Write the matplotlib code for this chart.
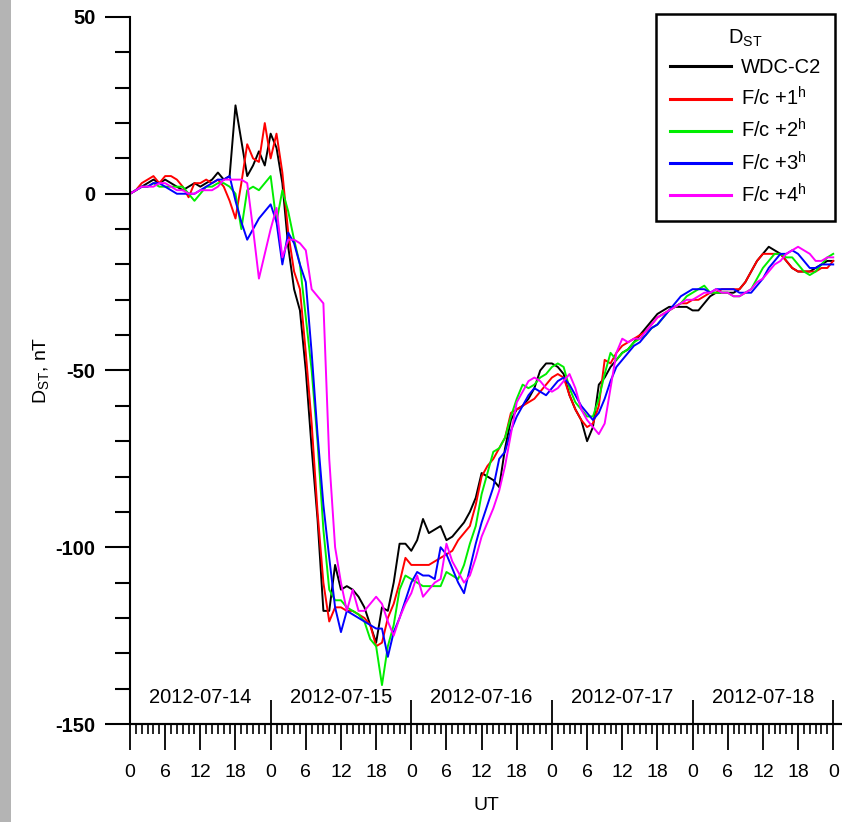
import numpy as np
import matplotlib
matplotlib.use('Agg')
import matplotlib.pyplot as plt
import matplotlib.transforms as mtransforms
from matplotlib.patches import Rectangle
from matplotlib.ticker import MultipleLocator, FixedLocator, FuncFormatter, NullLocator

plt.rcParams['font.family'] = ['Liberation Sans', 'DejaVu Sans']
plt.rcParams['axes.unicode_minus'] = False

# hourly Dst values, 2012-07-14 00 UT .. 2012-07-19 00 UT
hours = np.arange(121)

wdc_c2 = [0, 1, 2, 3, 4, 3, 4, 3, 2, 1,
          2, 3, 2, 3, 4, 6, 4, 5, 25, 15,
          5, 8, 12, 8, 17, 13, 3, -15, -27, -33,
          -50, -72, -92, -118, -118, -105, -112, -111, -112, -114,
          -117, -122, -127, -117, -118, -110, -99, -99, -101, -98,
          -92, -96, -95, -94, -98, -97, -95, -93, -90, -86,
          -79, -80, -81, -83, -72, -64, -61, -60, -58, -55,
          -50, -48, -48, -49, -51, -57, -61, -64, -70, -66,
          -54, -52, -49, -47, -45, -44, -42, -40, -38, -36,
          -34, -33, -32, -32, -32, -32, -33, -33, -31, -29,
          -28, -28, -28, -28, -27, -25, -22, -19, -17, -15,
          -16, -17, -19, -21, -22, -22, -22, -21, -20, -19,
          -19]

fc_1h = [0, 1, 3, 4, 5, 3, 5, 5, 4, 2,
         -1, 3, 3, 4, 3, 4, 2, -2, -7, 3,
         14, 10, 9, 20, 10, 17, 6, -11, -22, -27,
         -45, -65, -90, -110, -121, -117, -117, -118, -118, -119,
         -120, -122, -128, -127, -120, -116, -110, -103, -105, -105,
         -105, -105, -104, -103, -102, -101, -98, -96, -94, -88,
         -80, -77, -75, -72, -69, -62, -61, -60, -59, -58,
         -56, -54, -52, -51, -52, -57, -61, -64, -66, -65,
         -60, -47, -48, -45, -43, -42, -41, -40, -39, -37,
         -35, -34, -33, -32, -31, -31, -30, -30, -29, -28,
         -28, -27, -27, -27, -27, -25, -22, -19, -17, -17,
         -17, -17, -19, -21, -22, -22, -22, -22, -21, -21,
         -19]

fc_2h = [0, 1, 2, 2, 3, 2, 2, 2, 2, 2,
         0, -2, 0, 2, 2, 3, 3, 2, 0, -10,
         1, 2, 1, 3, 5, -8, 1, -5, -13, -20,
         -35, -50, -70, -95, -112, -115, -115, -117, -118, -119,
         -121, -126, -128, -139, -128, -122, -112, -108, -109, -110,
         -111, -111, -111, -111, -107, -108, -109, -105, -99, -94,
         -85, -79, -73, -72, -69, -63, -58, -54, -55, -54,
         -52, -51, -49, -48, -49, -55, -59, -61, -63, -63,
         -58, -51, -45, -47, -45, -44, -42, -41, -40, -38,
         -37, -35, -33, -32, -31, -29, -28, -27, -26, -28,
         -28, -28, -28, -29, -29, -28, -27, -24, -21, -19,
         -17, -17, -18, -18, -20, -22, -23, -22, -20, -18,
         -17]

fc_3h = [0, 1, 2, 2, 3, 3, 2, 1, 0, 0,
         0, 0, 1, 2, 3, 4, 4, 5, -2, -8,
         -13, -10, -7, -5, -3, -8, -20, -11, -14, -20,
         -25, -45, -68, -88, -103, -117, -124, -118, -119, -120,
         -121, -122, -123, -123, -131, -124, -120, -115, -110, -107,
         -108, -108, -109, -100, -102, -106, -110, -113, -106, -99,
         -93, -88, -83, -75, -73, -67, -63, -60, -57, -55,
         -56, -57, -55, -53, -52, -54, -57, -60, -62, -64,
         -62, -58, -53, -49, -47, -45, -43, -42, -40, -38,
         -37, -35, -33, -31, -29, -28, -27, -27, -27, -28,
         -27, -27, -27, -27, -28, -28, -28, -26, -24, -21,
         -19, -17, -17, -16, -17, -19, -21, -21, -20, -20,
         -20]

fc_4h = [0, 1, 2, 2, 2, 3, 3, 2, 1, 1,
         0, 0, 1, 1, 1, 2, 4, 4, 4, 4,
         3, -10, -24, -17, -10, -4, -18, -13, -13, -14,
         -16, -27, -29, -31, -75, -100, -110, -118, -112, -118,
         -118, -116, -114, -116, -121, -125, -120, -116, -113, -108,
         -114, -112, -110, -109, -99, -104, -107, -110, -108, -103,
         -97, -93, -89, -84, -77, -68, -59, -56, -53, -52,
         -53, -55, -56, -55, -53, -51, -55, -61, -64, -66,
         -68, -65, -55, -45, -41, -42, -41, -41, -39, -37,
         -35, -34, -33, -32, -31, -30, -30, -29, -28, -28,
         -27, -28, -28, -29, -29, -28, -27, -25, -24, -22,
         -20, -19, -17, -16, -15, -16, -17, -19, -19, -18,
         -18]

series = [wdc_c2, fc_1h, fc_2h, fc_3h, fc_4h]
labels = ['WDC-C2', r'F/c +1$^{\mathregular{h}}$', r'F/c +2$^{\mathregular{h}}$',
          r'F/c +3$^{\mathregular{h}}$', r'F/c +4$^{\mathregular{h}}$']
colors = ['#000000', '#ff0000', '#00ee00', '#0000ff', '#ff00ff']
dates = ['2012-07-14', '2012-07-15', '2012-07-16', '2012-07-17', '2012-07-18']

fig = plt.figure(figsize=(8.42, 8.22), dpi=100)
fig.patches.append(Rectangle((0, 0), 11 / 842, 1, transform=fig.transFigure,
                             facecolor='#b4b4b4', edgecolor='none', zorder=0))
ax = fig.add_axes([130 / 842, 1 - 724 / 822, 712 / 842, 707 / 822])

for vals, col, lab in zip(series, colors, labels):
    ax.plot(hours, vals, color=col, lw=1.4, label=lab)

ax.set_xlim(0, 121.5)
ax.set_ylim(-150, 50)
for s in ['top', 'right']:
    ax.spines[s].set_visible(False)
for s in ['left', 'bottom']:
    ax.spines[s].set_linewidth(1.5)

# y axis
ax.yaxis.set_major_locator(MultipleLocator(50))
ax.yaxis.set_minor_locator(MultipleLocator(10))
ax.tick_params(axis='y', which='major', length=18, width=1.5, labelsize=14.5, pad=7)
ax.tick_params(axis='y', which='minor', length=11, width=1.5)
for t in ax.get_yticklabels():
    t.set_fontweight('bold')

# x axis: hours of day
ax.xaxis.set_major_locator(FixedLocator(range(0, 121, 6)))
ax.xaxis.set_minor_locator(FixedLocator(range(0, 121)))
ax.xaxis.set_major_formatter(FuncFormatter(lambda v, p: str(int(round(v)) % 24)))
ax.tick_params(axis='x', which='major', length=19, width=1.3, labelsize=14, pad=10)
ax.tick_params(axis='x', which='minor', length=7, width=1.2)

# day boundaries, ticks pointing up
sec = ax.secondary_xaxis('bottom')
sec.set_xticks(range(0, 121, 24))
sec.xaxis.set_minor_locator(NullLocator())
sec.tick_params(direction='in', length=17, width=1.3, labelbottom=False)
sec.spines['bottom'].set_linewidth(1.5)

trans = mtransforms.blended_transform_factory(ax.transData, ax.transAxes)
for i, d in enumerate(dates):
    ax.text(12 + 24 * i, 0.038, d, transform=trans, ha='center', va='center', fontsize=14.5)

ax.set_xlabel('UT', fontsize=14)
ax.xaxis.set_label_coords(0.5, -0.103)
ax.set_ylabel(r'D$_{\mathregular{ST}}$, nT', fontsize=14)
ax.yaxis.set_label_coords(-0.11, 0.5)

leg = ax.legend(title=r'D$_{\mathregular{ST}}$', loc='upper right',
                bbox_to_anchor=(835 / 842, 1 - 14 / 822), bbox_transform=fig.transFigure,
                frameon=True, fancybox=False, edgecolor='black', framealpha=1,
                fontsize=14.5, title_fontsize=14.5, handlelength=3.0, handletextpad=0.5,
                labelspacing=0.45, borderpad=0.7, borderaxespad=0)
leg.get_frame().set_linewidth(1.8)
for h in leg.legend_handles:
    h.set_linewidth(2.2)

fig.savefig('out.png', dpi=100)
